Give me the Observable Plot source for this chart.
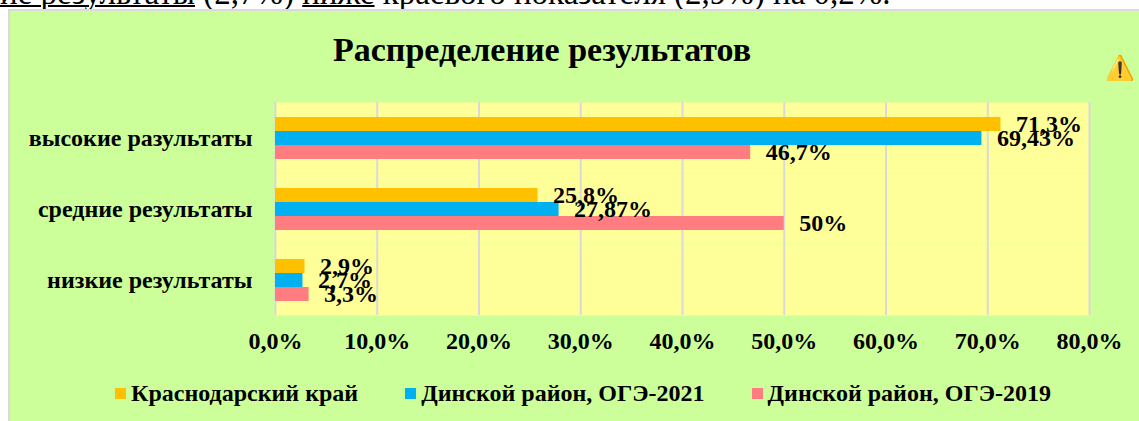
<!DOCTYPE html>
<html><head><meta charset="utf-8">
<script src="https://cdn.jsdelivr.net/npm/d3@7"></script>
<script src="https://cdn.jsdelivr.net/npm/@observablehq/plot@0.6"></script>
<style>
html,body{margin:0;padding:0;background:#fff;}
body{width:1139px;height:421px;overflow:hidden;position:relative;font-family:"Liberation Serif","Times New Roman",serif;}
#toptext{position:absolute;left:0;top:-23px;font-size:33px;line-height:33px;white-space:nowrap;color:#000;z-index:0;}
#toptext u{text-decoration-thickness:2px;}
#box{position:absolute;left:8px;top:9px;width:1200px;height:500px;background:#CCFF99;border-left:2px solid #d9d9d9;border-top:2px solid #d9d9d9;z-index:1;}
#title{position:absolute;left:0;width:1064px;top:22px;text-align:center;font-size:34px;line-height:34px;font-weight:bold;color:#000;}
#chart{position:absolute;left:0;top:69px;}
#legend{position:absolute;left:105px;top:369px;display:flex;gap:47px;font-size:24px;line-height:26px;font-weight:bold;color:#000;white-space:nowrap;}
#legend .item{display:flex;align-items:center;gap:5px;}
#legend .sw{width:11px;height:11px;display:inline-block;}
</style>
</head><body>
<div id="toptext"><u>ие результаты</u> (2,7%) <u>ниже</u> краевого показателя (2,9%) на 0,2%.</div>
<div id="box">
  <div id="title">Распределение результатов</div>
  <div id="chart"></div>
  <div id="legend"></div>
</div>
<script>
const categories = ["высокие разультаты", "средние результаты", "низкие результаты"];
const series = ["Краснодарский край", "Динской район, ОГЭ-2021", "Динской район, ОГЭ-2019"];
const colors = ["#FFC000", "#00B0F0", "#FF7C80"];
const krasnodar = [71.3, 25.8, 2.9];
const dinskoy2021 = [69.43, 27.87, 2.7];
const dinskoy2019 = [46.7, 50, 3.3];
const xTicks = [0, 10, 20, 30, 40, 50, 60, 70, 80];

const seriesValues = [krasnodar, dinskoy2021, dinskoy2019];
const data = [];
categories.forEach((c, i) => {
  seriesValues.forEach((arr, j) => data.push({category: c, series: series[j], value: arr[i]}));
});
const fmtLabel = v => String(v).replace(".", ",") + "%";
const fmtTick = v => v.toFixed(1).replace(".", ",") + "%";

const chart = Plot.plot({
  width: 1125,
  height: 280,
  marginLeft: 265,
  marginRight: 46,
  marginTop: 21,
  marginBottom: 45,
  style: {background: "transparent", fontFamily: "'Liberation Serif', 'Times New Roman', serif", fontWeight: "bold", fontSize: "24px", color: "#000", overflow: "visible"},
  facet: {data: data, y: "category"},
  fy: {domain: categories, padding: 0, label: null, axis: "left", tickSize: 0, tickPadding: 23},
  y: {domain: series, paddingInner: 0, paddingOuter: 0.91, axis: null},
  x: {domain: [0, 80], ticks: xTicks, tickFormat: fmtTick, label: null, tickSize: 0, tickPadding: 16},
  color: {domain: series, range: colors},
  marks: [
    Plot.frame({fill: "#FFFF99", stroke: "none"}),
    Plot.ruleX(xTicks, {stroke: "#D9D9D9", strokeWidth: 2}),
    Plot.barX(data, {x: "value", y: "series", fill: "series"}),
    Plot.text(data, {x: "value", y: "series", text: d => fmtLabel(d.value), dx: 15, textAnchor: "start", fontSize: 24, fontWeight: "bold", fill: "#000"})
  ]
});
document.getElementById("chart").appendChild(chart);

const legend = document.getElementById("legend");
series.forEach((s, i) => {
  const item = document.createElement("div");
  item.className = "item";
  const sw = document.createElement("span");
  sw.className = "sw";
  sw.style.background = colors[i];
  const t = document.createElement("span");
  t.textContent = s;
  item.appendChild(sw);
  item.appendChild(t);
  legend.appendChild(item);
});
</script>
</body></html>
